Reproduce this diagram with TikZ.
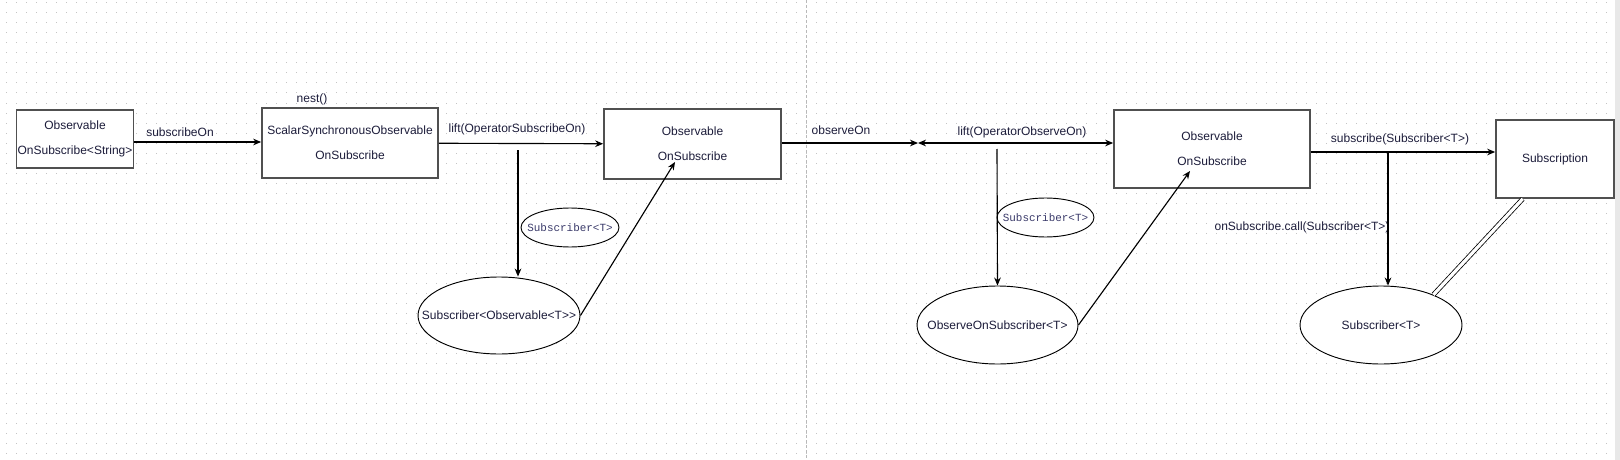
\documentclass[tikz,border=0pt]{standalone}
\usepackage{fontspec}
\setmainfont{Liberation Sans}
\setmonofont{Liberation Mono}
\usetikzlibrary{arrows.meta, shapes.geometric}
\definecolor{rand}{HTML}{505050}
\definecolor{punkt}{HTML}{C4C4C4}
\definecolor{schrift}{HTML}{1C1C3A}
\definecolor{monoschrift}{HTML}{3A3A6A}

\begin{document}
\begin{tikzpicture}[x=0.75pt, y=-0.75pt,
      every node/.style={font=\fontsize{9}{10.8}\selectfont, text=schrift},
      box/.style={draw=rand, line width=1.3pt, fill=white, align=center, inner sep=0pt},
      oval/.style={ellipse, draw, line width=0.7pt, fill=white, inner sep=0pt},
      monotag/.style={font=\ttfamily\fontsize{8.2}{9}\selectfont, text=monoschrift},
      lbl/.style={inner sep=0pt},
      arrow/.style={-{Stealth[length=6pt, width=5pt]}, line width=0.85pt},
      both/.style={{Stealth[length=6pt, width=5pt]}-{Stealth[length=6pt, width=5pt]}, line width=0.85pt} ]
    \useasboundingbox (0,0) rectangle (1620,460);
    % dotted grid and page divider
    \foreach \y in {3,13,...,453}
      \draw[punkt, line width=0.75pt, dash pattern=on 0.75pt off 6.75pt] (6,\y) -- (1612,\y);
    \draw[gray!55, line width=0.75pt, dash pattern=on 2.25pt off 1.5pt] (806,0) -- (806,460);
    \fill[gray!18] (1615,0) rectangle (1620,460);

    % boxes
    \node[box, minimum width=87.75pt, minimum height=43.5pt] (obsStr) at (75,139)
         {Observable\\[8pt]OnSubscribe<String>};
    \node[box, minimum width=132pt, minimum height=52.5pt] (scalar) at (350,143)
         {ScalarSynchronousObservable\\[8pt]OnSubscribe};
    \node[box, minimum width=132.75pt, minimum height=52.5pt] (obsA) at (692.5,144)
         {Observable\\[8pt]OnSubscribe};
    \node[box, minimum width=147pt, minimum height=58.5pt] (obsB) at (1212,149)
         {Observable\\[8pt]OnSubscribe};
    \node[box, minimum width=88.5pt, minimum height=58.5pt] (subscription) at (1555,159)
         {Subscription};

    % ellipses
    \node[oval, minimum width=121.5pt, minimum height=57.75pt] (subObs) at (499,315.5)
         {\makebox[0pt]{Subscriber<Observable<T>{}>}};
    \node[oval, monotag, minimum width=73.5pt, minimum height=29.25pt] (tagA) at (570,227.5)
         {\makebox[0pt]{Subscriber<T>}};
    \node[oval, minimum width=120.75pt, minimum height=58.5pt] (obsOnSub) at (997.5,325)
         {\makebox[0pt]{ObserveOnSubscriber<T>}};
    \node[oval, monotag, minimum width=72.75pt, minimum height=29.25pt] (tagB) at (1045.5,217.5)
         {\makebox[0pt]{Subscriber<T>}};
    \node[oval, minimum width=121.5pt, minimum height=58.5pt] (subT) at (1381,325)
         {\makebox[0pt]{Subscriber<T>}};

    % labels
    \node[lbl] (lblNest)    at (312,99)   {nest()};
    \node[lbl] (lblSubOn)   at (180,132)  {subscribeOn};
    \node[lbl] (lblLiftA)   at (517,129)  {lift(OperatorSubscribeOn)};
    \node[lbl] (lblObsOn)   at (841,130)  {observeOn};
    \node[lbl] (lblLiftB)   at (1022,132) {lift(OperatorObserveOn)};
    \node[lbl] (lblSubscr)  at (1400,139) {subscribe(Subscriber<T>)};
    \node[lbl] (lblCall)    at (1302,227) {onSubscribe.call(Subscriber<T>)};

    \coordinate (tapS) at (134,142);
    \coordinate (junc) at (918,143);
    \coordinate (tapA) at (518,150);
    \coordinate (hitA) at (675,162);
    \coordinate (tapB) at (997,149);
    \coordinate (hitB) at (1190,171);
    \coordinate (tapC) at (1388,152);

    \draw[arrow] (obsStr.east |- tapS) -- (tapS -| scalar.west);
    \draw[arrow] (scalar) -- (obsA);
    \draw[arrow] (tapA) -- (tapA |- subObs.north);
    \draw[arrow] (subObs.east) -- (hitA);
    \draw[arrow] (obsA.east |- junc) -- (junc);
    \draw[both] (junc) -- (junc -| obsB.west);
    \draw[arrow] (tapB) -- (obsOnSub.north);
    \draw[arrow] (obsOnSub.east) -- (hitB);
    \draw[arrow] (obsB.east |- tapC) -- (tapC -| subscription.west);
    \draw[arrow] (tapC) -- (tapC |- subT.north);
    \draw[double, line width=0.6pt, double distance=2.4pt] (subT.30) -- (subscription.231);
  \end{tikzpicture}
\end{document}
